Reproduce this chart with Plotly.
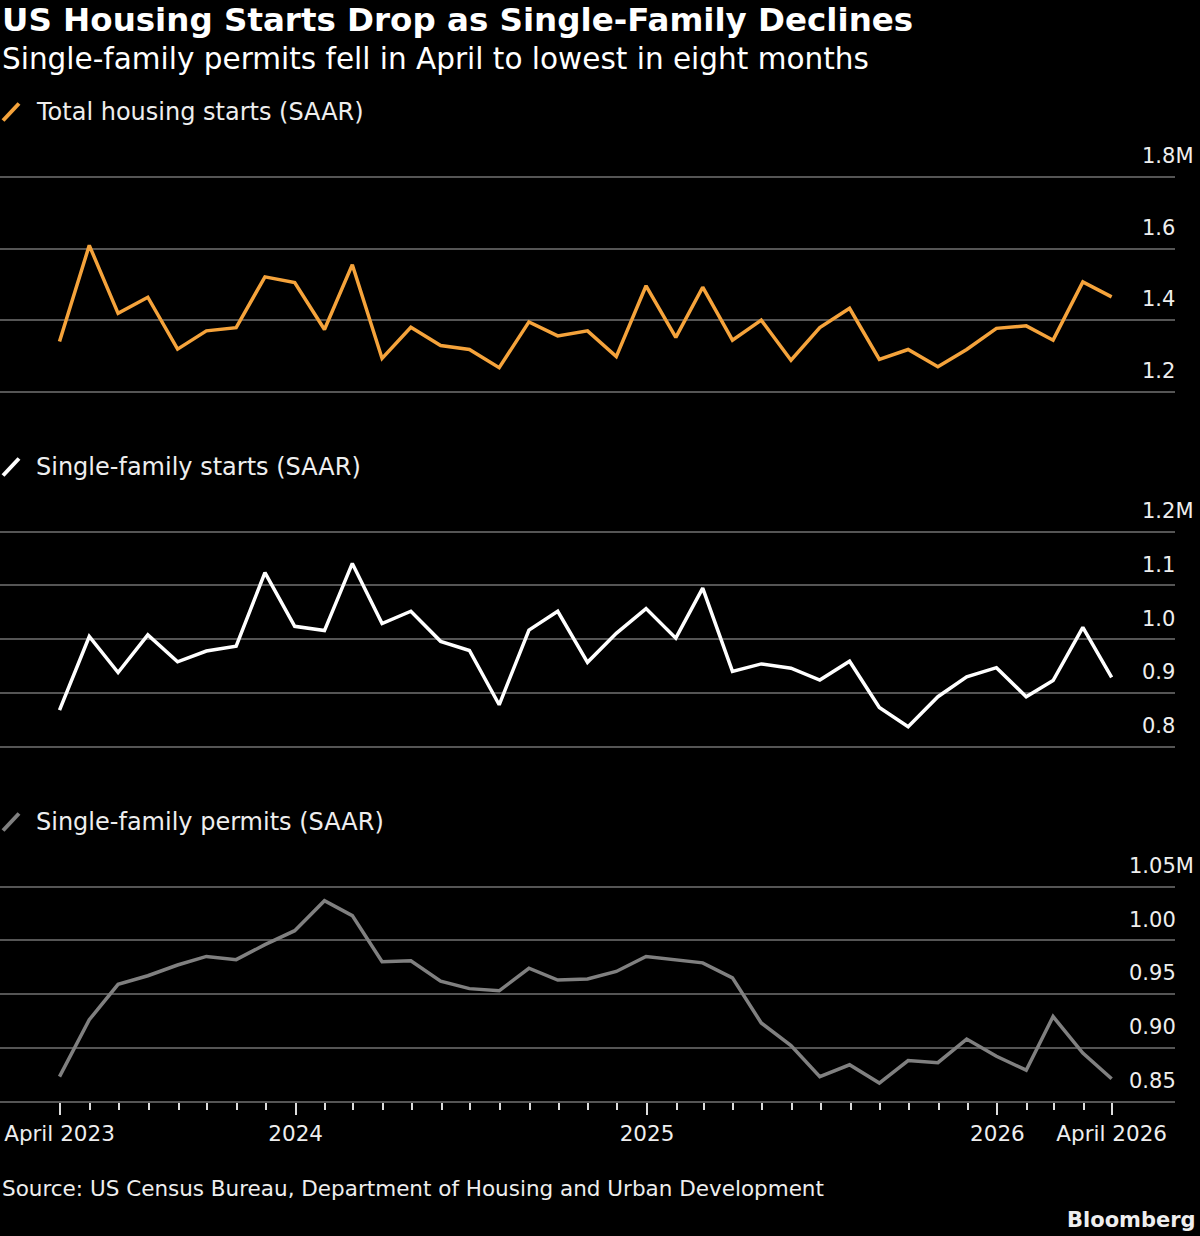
import plotly.graph_objects as go
import pandas as pd

months = pd.date_range("2023-04-30", periods=37, freq="ME")

total_starts = [1.340, 1.609, 1.419, 1.464, 1.319, 1.370, 1.379, 1.521, 1.505, 1.374,
                1.555, 1.293, 1.380, 1.329, 1.318, 1.267, 1.395, 1.356, 1.370, 1.298,
                1.496, 1.352, 1.492, 1.344, 1.400, 1.288, 1.379, 1.433, 1.290, 1.318,
                1.270, 1.318, 1.377, 1.384, 1.344, 1.507, 1.465]

single_starts = [0.868, 1.005, 0.938, 1.008, 0.958, 0.978, 0.987, 1.124, 1.024, 1.016,
                 1.141, 1.029, 1.052, 0.996, 0.979, 0.878, 1.017, 1.052, 0.957, 1.011,
                 1.057, 1.002, 1.095, 0.940, 0.954, 0.946, 0.924, 0.959, 0.873, 0.837,
                 0.893, 0.930, 0.947, 0.893, 0.923, 1.022, 0.929]

single_permits = [0.873, 0.926, 0.959, 0.967, 0.977, 0.985, 0.982, 0.996, 1.009, 1.037,
                  1.023, 0.980, 0.981, 0.962, 0.955, 0.953, 0.974, 0.963, 0.964, 0.971,
                  0.985, 0.982, 0.979, 0.965, 0.923, 0.902, 0.873, 0.884, 0.867, 0.888,
                  0.886, 0.908, 0.892, 0.879, 0.929, 0.895, 0.871]

panel_titles = ["Total housing starts (SAAR)", "Single-family starts (SAAR)",
                "Single-family permits (SAAR)"]
y1_ticks = [1.2, 1.4, 1.6, 1.8]
y1_text = ["1.2", "1.4", "1.6", "1.8M"]
y2_ticks = [0.8, 0.9, 1.0, 1.1, 1.2]
y2_text = ["0.8", "0.9", "1.0", "1.1", "1.2M"]
y3_ticks = [0.85, 0.90, 0.95, 1.00, 1.05]
y3_text = ["0.85", "0.90", "0.95", "1.00", "1.05M"]
x_tickvals = ["2023-04-30", "2024-01-01", "2025-01-01", "2026-01-01", "2026-04-30"]
x_ticktext = ["April 2023", "2024", "2025", "2026", "April 2026"]
minor_tickvals = [d.strftime("%Y-%m-%d")
                  for d in pd.date_range("2023-06-01", "2026-04-01", freq="MS")]

ORANGE = "#F5A33B"
WHITE = "#FFFFFF"
GREY = "#808080"
GRID = "#555555"
FONT = "DejaVu Sans"

W, H = 1200, 1236
PLOT_R = 1175
PAD = 2.5  # px of breathing room so edge gridlines are drawn


def py(ypx):
    return 1 - ypx / H


def px(xpx):
    return xpx / PLOT_R


def panel(top_px, bot_px, lo, hi, pad_bottom=True):
    per_px = (hi - lo) / (bot_px - top_px)
    t = top_px - PAD
    b = bot_px + (PAD if pad_bottom else 0)
    rng = [lo - (PAD * per_px if pad_bottom else 0), hi + PAD * per_px]
    return [py(b), py(t)], rng


fig = go.Figure()
fig.add_trace(go.Scatter(x=months, y=total_starts, mode="lines",
                         line=dict(color=ORANGE, width=3.5), xaxis="x", yaxis="y"))
fig.add_trace(go.Scatter(x=months, y=single_starts, mode="lines",
                         line=dict(color=WHITE, width=3.5), xaxis="x2", yaxis="y2"))
fig.add_trace(go.Scatter(x=months, y=single_permits, mode="lines",
                         line=dict(color=GREY, width=3.5), xaxis="x3", yaxis="y3"))

xrange = ["2023-02-27", "2026-07-05"]
common_x = dict(range=xrange, type="date", showgrid=False, zeroline=False,
                fixedrange=True, automargin=False)


def yaxis(domain, rng, tickvals, ticktext, anchor, standoff):
    return dict(domain=domain, range=rng, side="right", anchor=anchor,
                tickmode="array", tickvals=tickvals, ticktext=ticktext,
                showgrid=True, gridcolor=GRID, gridwidth=1.5, zeroline=False,
                showline=False, ticks="", ticklabelposition="outside",
                ticklabelstandoff=standoff, ticklabelshift=-21, automargin=False,
                fixedrange=True,
                tickfont=dict(family=FONT, size=21, color="#EEEEEE"))


d1, r1 = panel(177, 391.7, 1.2, 1.8)
d2, r2 = panel(531.7, 746.7, 0.8, 1.2)
d3, r3 = panel(886.7, 1101.3, 0.85, 1.05, pad_bottom=False)

fig.update_layout(
    template="none",
    width=W, height=H, autosize=False,
    paper_bgcolor="black", plot_bgcolor="black",
    margin=dict(l=0, r=W - PLOT_R, t=0, b=0, pad=0, autoexpand=False),
    showlegend=False,
    xaxis=dict(**common_x, anchor="y", showticklabels=False, ticks="", showline=False),
    xaxis2=dict(**common_x, anchor="y2", showticklabels=False, ticks="", showline=False),
    xaxis3=dict(**common_x, anchor="y3", showline=True, linecolor=GRID, linewidth=1.5,
                tickmode="array", tickvals=x_tickvals, ticktext=x_ticktext,
                ticks="outside", ticklen=12, tickwidth=1.5, tickcolor="#DDDDDD",
                tickfont=dict(family=FONT, size=21.5, color="#EEEEEE"),
                minor=dict(ticks="outside", ticklen=7, tickwidth=1.5,
                           tickcolor="#DDDDDD", tickmode="array",
                           tickvals=minor_tickvals, showgrid=False)),
    yaxis=yaxis(d1, r1, y1_ticks, y1_text, "x", -34),
    yaxis2=yaxis(d2, r2, y2_ticks, y2_text, "x2", -34),
    yaxis3=yaxis(d3, r3, y3_ticks, y3_text, "x3", -47),
)

annotations = [
    dict(text="<b>US Housing Starts Drop as Single-Family Declines</b>", x=0, y=py(20),
         xanchor="left", yanchor="middle", font=dict(family=FONT, size=32.5, color=WHITE)),
    dict(text="Single-family permits fell in April to lowest in eight months", x=0, y=py(59),
         xanchor="left", yanchor="middle", font=dict(family=FONT, size=29.5, color=WHITE)),
    dict(text="Source: US Census Bureau, Department of Housing and Urban Development",
         x=0, y=py(1188), xanchor="left", yanchor="middle",
         font=dict(family=FONT, size=21.5, color="#EEEEEE")),
    dict(text="<b>Bloomberg</b>", x=px(1198), y=py(1220), xanchor="right", yanchor="middle",
         font=dict(family=FONT, size=21, color="#EEEEEE")),
]
title_y = [112, 467, 822]
colors = [ORANGE, WHITE, GREY]
shapes = []
for t, ty, c in zip(panel_titles, title_y, colors):
    annotations.append(dict(text=t, x=px(34), y=py(ty), xanchor="left", yanchor="middle",
                            font=dict(family=FONT, size=24, color="#EEEEEE")))
    shapes.append(dict(type="line", xref="paper", yref="paper",
                       x0=px(3), y0=py(ty + 8.5), x1=px(19), y1=py(ty - 8.5),
                       line=dict(color=c, width=4)))
for a in annotations:
    a.update(xref="paper", yref="paper", showarrow=False)
fig.update_layout(annotations=annotations, shapes=shapes)

fig.write_html("out.html",
               config={"displayModeBar": False, "responsive": False},
               post_script="document.body.style.margin='0';"
                           "document.body.style.background='black';"
                           "document.body.style.overflow='hidden';")
